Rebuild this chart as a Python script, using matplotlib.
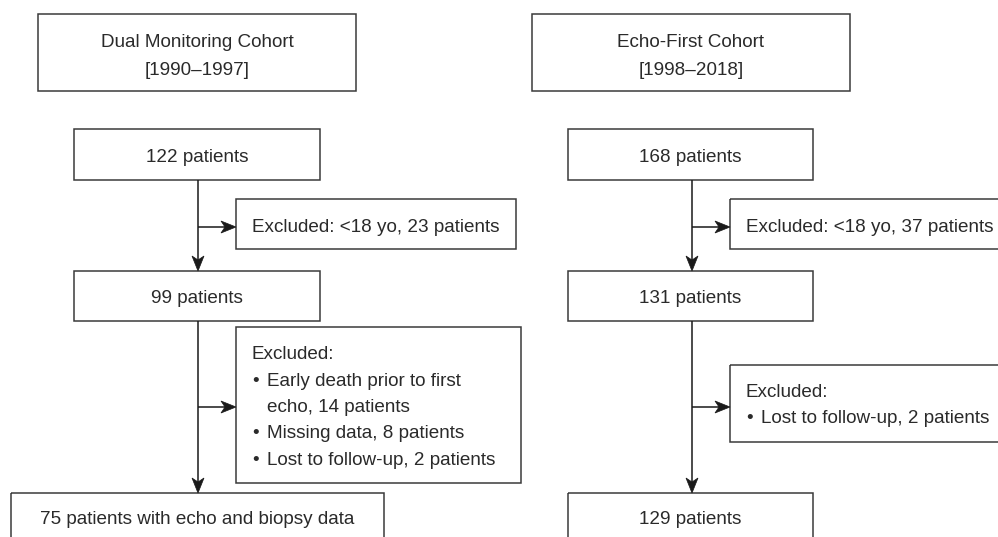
"""Patient selection flowchart for the two cohorts."""
import matplotlib.pyplot as plt
from matplotlib.patches import Rectangle, Polygon

plt.rcParams["font.family"] = ["Liberation Sans", "DejaVu Sans"]

# chart content
cohort_titles = ["Dual Monitoring Cohort", "Echo-First Cohort"]
cohort_years = ["[1990\u20131997]", "[1998\u20132018]"]
step_counts_left = ["122 patients", "99 patients", "75 patients with echo and biopsy data"]
step_counts_right = ["168 patients", "131 patients", "129 patients"]
excl_first_left = "Excluded: <18 yo, 23 patients"
excl_first_right = "Excluded: <18 yo, 37 patients"
excl_second_left = ["Early death prior to first", "echo, 14 patients",
                    "Missing data, 8 patients", "Lost to follow-up, 2 patients"]
excl_second_left_bullet = [True, False, True, True]
excl_second_right = ["Lost to follow-up, 2 patients"]
excl_second_right_bullet = [True]

W, H = 998, 537
EDGE = "#3a3a3a"
TXT = "#2a2a2a"
FS = 13.6

fig = plt.figure(figsize=(W / 100, H / 100), dpi=100)
ax = fig.add_axes([0, 0, 1, 1])
ax.set_xlim(0, W)
ax.set_ylim(H, 0)
ax.axis("off")


def box(x0, y0, x1, y1):
    ax.add_patch(Rectangle((x0, y0), x1 - x0, y1 - y0, fill=False,
                           edgecolor=EDGE, linewidth=1.1, clip_on=True))


def arrow(x0, y0, x1, y1, hl=15, hw=6, notch=4):
    # straight shaft plus a notched (stealth) head
    dx, dy = x1 - x0, y1 - y0
    n = (dx ** 2 + dy ** 2) ** 0.5
    ux, uy = dx / n, dy / n
    px, py = -uy, ux
    bx, by = x1 - ux * hl, y1 - uy * hl
    ax.plot([x0, x1 - ux * hl * 0.6], [y0, y1 - uy * hl * 0.6],
            color="#1a1a1a", lw=1.1, solid_capstyle="butt")
    head = [(x1, y1), (bx + px * hw, by + py * hw),
            (bx + ux * notch, by + uy * notch), (bx - px * hw, by - py * hw)]
    ax.add_patch(Polygon(head, closed=True, facecolor="#1a1a1a",
                         edgecolor="#1a1a1a", lw=0.5))


def label(x, y, s, ha="center", fs=FS):
    # y is the text baseline
    ax.text(x, y, s, ha=ha, va="baseline", fontsize=fs, color=TXT)


# column geometry (pixels)
cols = [
    dict(head=(38, 356), step=(74, 320), cx=198, exc_x=236,
         exc1_right=516, exc2=(327, 483, 521), exc2_arrow=407,
         last=(11, 384), counts=step_counts_left, exc1=excl_first_left,
         exc2_lines=excl_second_left, exc2_bul=excl_second_left_bullet,
         exc2_title_y=359.3, exc2_step=26.4),
    dict(head=(532, 850), step=(568, 813), cx=692, exc_x=730,
         exc1_right=1005, exc2=(365, 442, 1005), exc2_arrow=407,
         last=(568, 813), counts=step_counts_right, exc1=excl_first_right,
         exc2_lines=excl_second_right, exc2_bul=excl_second_right_bullet,
         exc2_title_y=396.8, exc2_step=26.4),
]

for i, c in enumerate(cols):
    hx0, hx1 = c["head"]
    box(hx0, 14, hx1, 91)
    label((hx0 + hx1) / 2, 46.7, cohort_titles[i])
    label((hx0 + hx1) / 2, 74.6, cohort_years[i])

    sx0, sx1 = c["step"]
    box(sx0, 129, sx1, 180)
    label((sx0 + sx1) / 2, 161.7, c["counts"][0])
    box(sx0, 271, sx1, 321)
    label((sx0 + sx1) / 2, 303.3, c["counts"][1])
    lx0, lx1 = c["last"]
    box(lx0, 493, lx1, 560)
    label((lx0 + lx1) / 2, 524, c["counts"][2])

    cx = c["cx"]
    arrow(cx, 180, cx, 271)
    arrow(cx, 321, cx, 493)

    # first exclusion
    ex = c["exc_x"]
    box(ex, 199, c["exc1_right"], 249)
    arrow(cx, 227, ex, 227)
    label(ex + 16, 232.3, c["exc1"], ha="left")

    # second exclusion
    y0, y1, xr = c["exc2"]
    box(ex, y0, xr, y1)
    arrow(cx, c["exc2_arrow"], ex, c["exc2_arrow"])
    ty = c["exc2_title_y"]
    label(ex + 16, ty, "Excluded:", ha="left")
    for j, (line, bul) in enumerate(zip(c["exc2_lines"], c["exc2_bul"])):
        yy = ty + (j + 1) * c["exc2_step"]
        if bul:
            label(ex + 16, yy, "\u2022", ha="left")
        label(ex + 31, yy, line, ha="left")

fig.savefig("out.png", dpi=100)
